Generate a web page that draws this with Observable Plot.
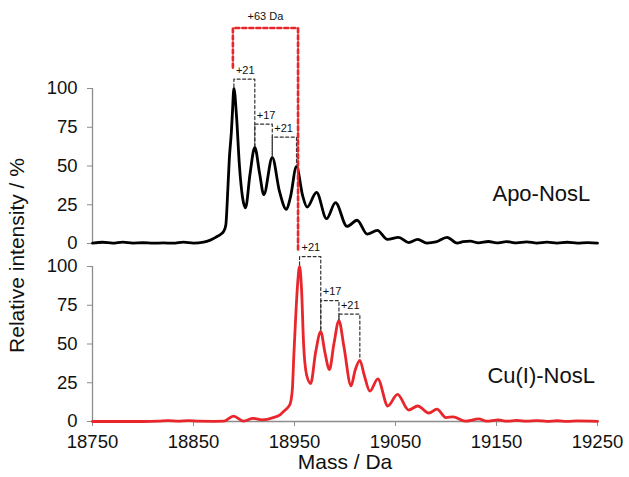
<!DOCTYPE html>
<html><head><meta charset="utf-8">
<script src="https://cdn.jsdelivr.net/npm/d3@7"></script>
<script src="https://cdn.jsdelivr.net/npm/@observablehq/plot@0.6"></script>
<style>body{margin:0;background:#fff;font-family:"Liberation Sans",Arial,sans-serif}</style>
</head><body><div id="chart"></div>
<script>
// ---- data ----
const panels = ["Apo-NosL", "Cu(I)-NosL"];
const xTicks = [18750, 18850, 18950, 19050, 19150, 19250];
const yTicks = [0, 25, 50, 75, 100];

const apoMass = [18750,18760,18770,18780,18790,18800,18810,18820,18830,18840,18850,18860,18866,18872,18877,18880,18882,18884,18885.5,18887.5,18888.5,18890,18892.5,18895.5,18898.5,18901.5,18906,18910.7,18915.5,18919.6,18928,18935,18942,18946,18952,18958,18962.5,18971.8,18981.7,18990.6,19002,19012,19022,19032,19042,19053,19063,19072,19081,19090,19101,19111,19117,19124,19132,19142,19150,19160,19170,19180,19190,19200,19210,19220,19230,19240,19250];
const apoInt  = [0.3,0.8,0.2,0.9,0.3,0.5,0.2,0.4,0.2,0.9,0.3,0.9,2,4,6,8,12,35,55,72,84,100,83,50,30,23,45,62,45,31.5,55.5,34,22,30,49.7,31,23.5,33,16,26.4,11,15,6,8.5,2.6,4,0.6,2.6,0.3,1,4,0.3,1.2,1.5,0.4,1.3,0.4,1.2,0.4,1.0,0.3,0.9,0.3,0.8,0.3,0.6,0.3];

const cuMass = [18750,18800,18815,18825,18835,18845,18855,18870,18880,18889.6,18899.5,18909,18918,18929,18936,18940,18944,18946,18948,18949.3,18951,18953,18955,18957,18959,18962,18966,18971,18976,18980,18984.6,18989,18994,18999,19006,19010,19014.7,19019,19024.6,19032.5,19042.4,19052,19063,19072,19083,19091,19100,19107,19119,19132.5,19140,19152,19160,19170,19180,19190,19200,19210,19220,19230,19250];
const cuInt  = [0,0,0.2,0.6,0.3,0.6,0.2,0.1,0.2,3.5,0.3,2,1,2.5,4.5,7,9.5,12,22,42,65,88,100,85,50,30,24.5,45,58,45,33.5,50,65,48,23,33,39.5,30,19.6,27.5,10,17.5,7.4,10,5.5,8,2.5,3,0.2,1.7,0.2,1,0.2,0.7,0.2,0.6,0.1,0.5,0.1,0.4,0.1];

// mass-difference brackets: from peak m1 to peak m2 at height h
const bracketPanel = ["Apo-NosL","Apo-NosL","Apo-NosL","Cu(I)-NosL","Cu(I)-NosL","Cu(I)-NosL"];
const bracketLabel = ["+21","+17","+21","+21","+17","+21"];
const bracketM1 = [18890, 18910.7, 18928, 18955, 18976, 18994];
const bracketM2 = [18910.7, 18928, 18952, 18976, 18994, 19014.7];
const bracketH  = [106, 77, 68.6, 106.4, 78, 69.3];
const bracketP1 = [101, 63, 56, 101, 59, 66];
const bracketP2 = [63, 56, 50.5, 59, 66, 40.5];

// +63 Da bracket (apo peak to Cu peak)
const shiftLabel = "+63 Da";
const shiftM1 = 18889, shiftM2 = 18953.5;
const shiftH = 139, shiftLeftEnd = 113.5, shiftRightEnd = -5;

const xLabel = "Mass / Da";
const yLabel = "Relative intensity / %";

// ---- build tables ----
const apo = apoMass.map((m, i) => ({panel: panels[0], mass: m, int: apoInt[i]}));
const cu = cuMass.map((m, i) => ({panel: panels[1], mass: m, int: cuInt[i]}));
const brackets = bracketLabel.flatMap((l, i) => [
  {id: i, panel: bracketPanel[i], mass: bracketM1[i], v: bracketP1[i]},
  {id: i, panel: bracketPanel[i], mass: bracketM1[i], v: bracketH[i]},
  {id: i, panel: bracketPanel[i], mass: bracketM2[i], v: bracketH[i]},
  {id: i, panel: bracketPanel[i], mass: bracketM2[i], v: bracketP2[i]}
]);
const bracketText = bracketLabel.map((l, i) => ({panel: bracketPanel[i], mass: bracketM1[i], v: bracketH[i], label: l}));
const shift = [
  {panel: panels[0], mass: shiftM1, v: shiftLeftEnd},
  {panel: panels[0], mass: shiftM1, v: shiftH},
  {panel: panels[0], mass: shiftM2, v: shiftH},
  {panel: panels[0], mass: shiftM2, v: shiftRightEnd}
];
const names = [
  {panel: panels[0], mass: 19146, v: 32, label: panels[0]},
  {panel: panels[1], mass: 19141, v: 29.5, label: panels[1]}
];

const gray = "#8c8c8c";
const red = "#e8262b";

const chart = Plot.plot({
  width: 629,
  height: 477,
  marginLeft: 92,
  marginRight: 32,
  marginTop: 88,
  marginBottom: 56,
  style: {fontFamily: "'Liberation Sans', Arial, sans-serif", fontSize: "18.5px", color: "#111", background: "#fff"},
  x: {domain: [18750, 19250]},
  y: {domain: [0, 100]},
  fy: {domain: panels, paddingInner: 0.132, paddingOuter: 0, axis: null},
  marks: [
    Plot.ruleX(panels.map(p => ({panel: p})), {x: () => 18750, y1: () => 0, y2: () => 100, fy: "panel", stroke: gray, strokeWidth: 1.3}),
    Plot.ruleY([{panel: panels[1]}], {y: () => 0, x1: () => 18750, x2: () => 19250, fy: "panel", stroke: gray, strokeWidth: 1.3}),
    Plot.axisY({ticks: yTicks, tickSize: 5, tickPadding: 10, stroke: gray, fill: "#111", label: null}),
    Plot.axisX({ticks: xTicks, tickSize: 5, tickPadding: 8, tickFormat: d => String(d), stroke: gray, fill: "#111", label: null}),
    Plot.line(apo, {x: "mass", y: "int", fy: "panel", stroke: "#000", strokeWidth: 2.8, curve: "monotone-x"}),
    Plot.line(cu, {x: "mass", y: "int", fy: "panel", stroke: red, strokeWidth: 2.8, curve: "monotone-x"}),
    Plot.line(brackets, {x: "mass", y: "v", z: "id", fy: "panel", stroke: "#333", strokeWidth: 1.2, strokeDasharray: "3,2.5"}),
    Plot.text(bracketText, {x: "mass", y: "v", fy: "panel", text: "label", textAnchor: "start", dx: 2, dy: -9, fontSize: 11, fill: "#111"}),
    Plot.line(shift, {x: "mass", y: "v", fy: "panel", stroke: red, strokeWidth: 2.6, strokeDasharray: "4,3"}),
    Plot.text([{panel: panels[0], mass: (shiftM1 + shiftM2) / 2, v: shiftH, label: shiftLabel}], {x: "mass", y: "v", fy: "panel", text: "label", dy: -12, fontSize: 11, fill: "#111"}),
    Plot.text(names, {x: "mass", y: "v", fy: "panel", text: "label", textAnchor: "start", fontSize: 22, fill: "#111"}),
    Plot.text([{panel: panels[0], label: yLabel}], {fy: "panel", text: "label", frameAnchor: "bottom-left", textAnchor: "middle", dx: -69, dy: 12, rotate: -90, fontSize: 21, fill: "#111"}),
    Plot.text([{panel: panels[1], label: xLabel}], {fy: "panel", text: "label", frameAnchor: "bottom", dy: 47, fontSize: 21, fill: "#111"})
  ]
});
document.getElementById("chart").appendChild(chart);
</script>
</body></html>
